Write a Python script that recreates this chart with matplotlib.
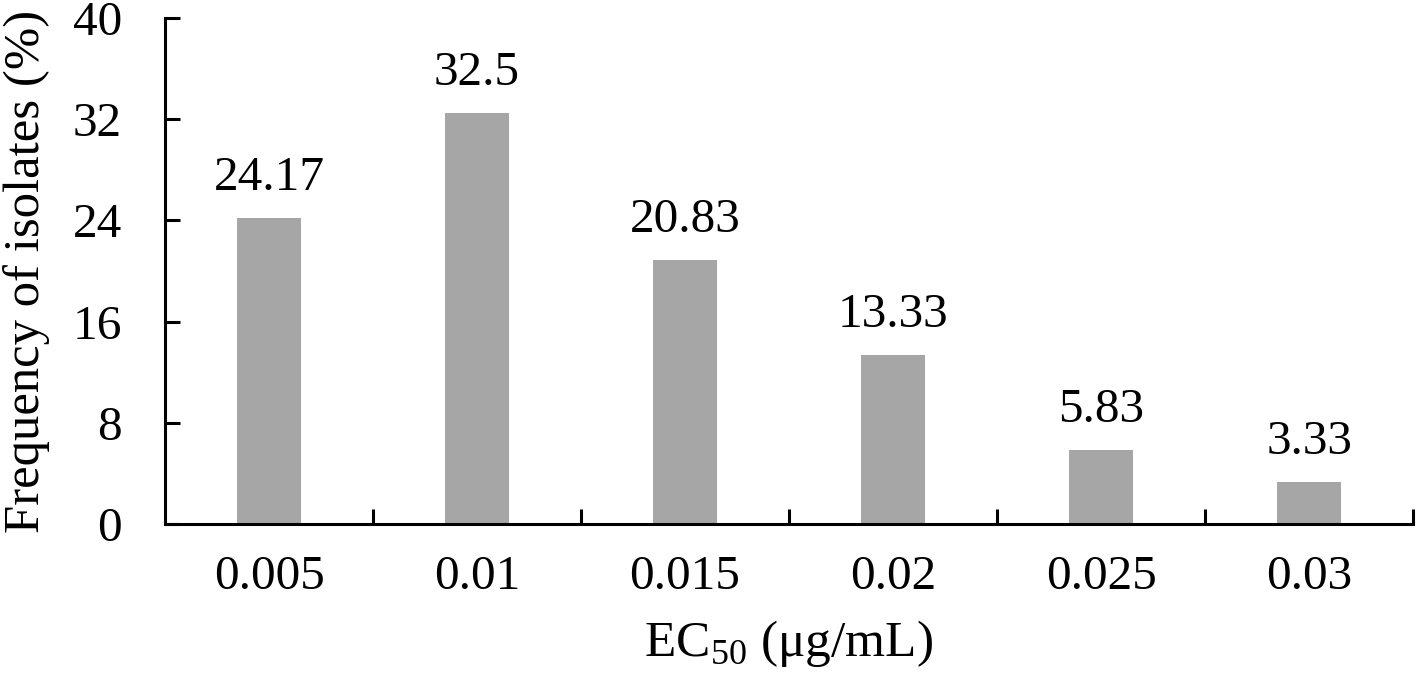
import numpy as np
import matplotlib.pyplot as plt
from matplotlib.ticker import FixedLocator

categories = ["0.005", "0.01", "0.015", "0.02", "0.025", "0.03"]
frequency = [24.17, 32.5, 20.83, 13.33, 5.83, 3.33]
value_labels = ["24.17", "32.5", "20.83", "13.33", "5.83", "3.33"]
y_ticks = [0, 8, 16, 24, 32, 40]

plt.rcParams['font.family'] = ['Liberation Serif', 'DejaVu Serif']
plt.rcParams['mathtext.fontset'] = 'custom'
plt.rcParams['mathtext.rm'] = 'Liberation Serif'

fig = plt.figure(figsize=(14.18, 6.87), dpi=100)
ax = fig.add_axes([0.1164, 0.2373, 0.8801, 0.7365])

x = np.arange(len(categories))
ax.bar(x, frequency, width=0.31, color="#a6a6a6")

for xi, v, lab in zip(x, frequency, value_labels):
    ax.annotate(lab, (xi, v), xytext=(0, 13), textcoords="offset points",
                ha="center", va="bottom", fontsize=35.5)

ax.set_xlim(-0.5, len(categories) - 0.5)
ax.set_ylim(0, 40)
ax.set_yticks(y_ticks)
ax.set_xticks(x)
ax.set_xticklabels(categories)
ax.xaxis.set_minor_locator(FixedLocator(x + 0.5))

ax.tick_params(axis="x", which="major", length=0, pad=22, labelsize=35.5)
ax.tick_params(axis="x", which="minor", direction="in", length=11, width=2.2)
ax.tick_params(axis="y", direction="in", length=11, width=2.2, pad=31, labelsize=35.5)

for s in ["top", "right"]:
    ax.spines[s].set_visible(False)
for s in ["left", "bottom"]:
    ax.spines[s].set_linewidth(2.2)

ax.set_ylabel("Frequency of isolates (%)", fontsize=36.5, labelpad=16)
ax.set_xlabel("EC$_{50}$ (μg/mL)", fontsize=37, labelpad=14)

fig.savefig("out.png", dpi=100)
